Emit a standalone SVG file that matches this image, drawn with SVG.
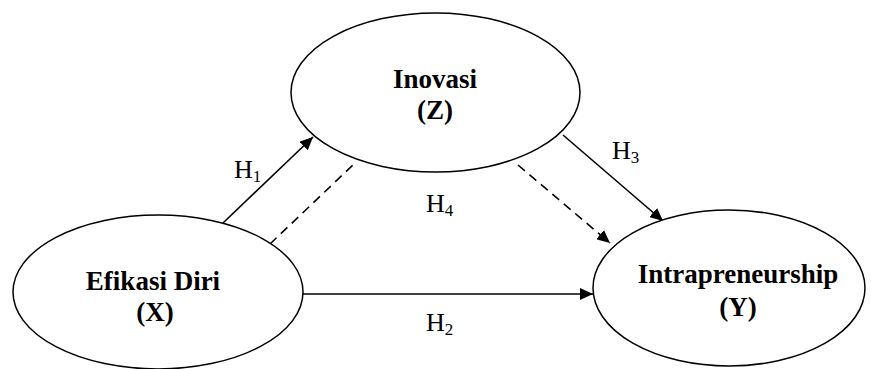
<svg xmlns="http://www.w3.org/2000/svg" width="871" height="369" viewBox="0 0 871 369">
  <style>
    .node { fill: #ffffff; stroke: #000000; stroke-width: 1.5; }
    .title { font-family: "Liberation Serif", "Times New Roman", serif; font-weight: bold; font-size: 27px; fill: #000000; text-anchor: middle; }
    .edge { stroke: #000000; stroke-width: 1.6; fill: none; }
    .dash { stroke-dasharray: 9 6; }
    .lbl { font-family: "Liberation Serif", "Times New Roman", serif; font-size: 26px; fill: #000000; }
    .sub { font-size: 17px; }
  </style>
  <defs>
    <marker id="arrow" markerUnits="userSpaceOnUse" markerWidth="14" markerHeight="12" refX="13" refY="6" orient="auto">
      <path d="M0,0 L13,6 L0,12 Z" fill="#000000"/>
    </marker>
  </defs>
  <rect width="871" height="369" fill="#ffffff"/>
  <g id="connectors">
    <line class="edge" x1="223" y1="223" x2="313" y2="137" marker-end="url(#arrow)"/>
    <line class="edge dash" x1="270" y1="244" x2="355" y2="163"/>
    <line class="edge" x1="563" y1="135" x2="663" y2="221" marker-end="url(#arrow)"/>
    <line class="edge dash" x1="518" y1="165" x2="610" y2="243" marker-end="url(#arrow)"/>
    <line class="edge" x1="303" y1="294" x2="593" y2="294" marker-end="url(#arrow)"/>
    <text class="lbl" x="234" y="178">H<tspan class="sub" dy="4">1</tspan></text>
    <text class="lbl" x="426" y="212">H<tspan class="sub" dy="4">4</tspan></text>
    <text class="lbl" x="612" y="159">H<tspan class="sub" dy="4">3</tspan></text>
    <text class="lbl" x="426" y="331">H<tspan class="sub" dy="4">2</tspan></text>
  </g>
  <g id="node-Z">
    <ellipse class="node" cx="435.5" cy="92.5" rx="144.5" ry="79.5"/>
    <text class="title" x="435" y="88">Inovasi</text>
    <text class="title" x="435" y="119">(Z)</text>
  </g>
  <g id="node-X">
    <ellipse class="node" cx="158" cy="292" rx="145" ry="77"/>
    <text class="title" x="153" y="290">Efikasi Diri</text>
    <text class="title" x="155" y="321">(X)</text>
  </g>
  <g id="node-Y">
    <ellipse class="node" cx="729" cy="288" rx="136" ry="78"/>
    <text class="title" x="738" y="283">Intrapreneurship</text>
    <text class="title" x="738" y="316">(Y)</text>
  </g>
</svg>
